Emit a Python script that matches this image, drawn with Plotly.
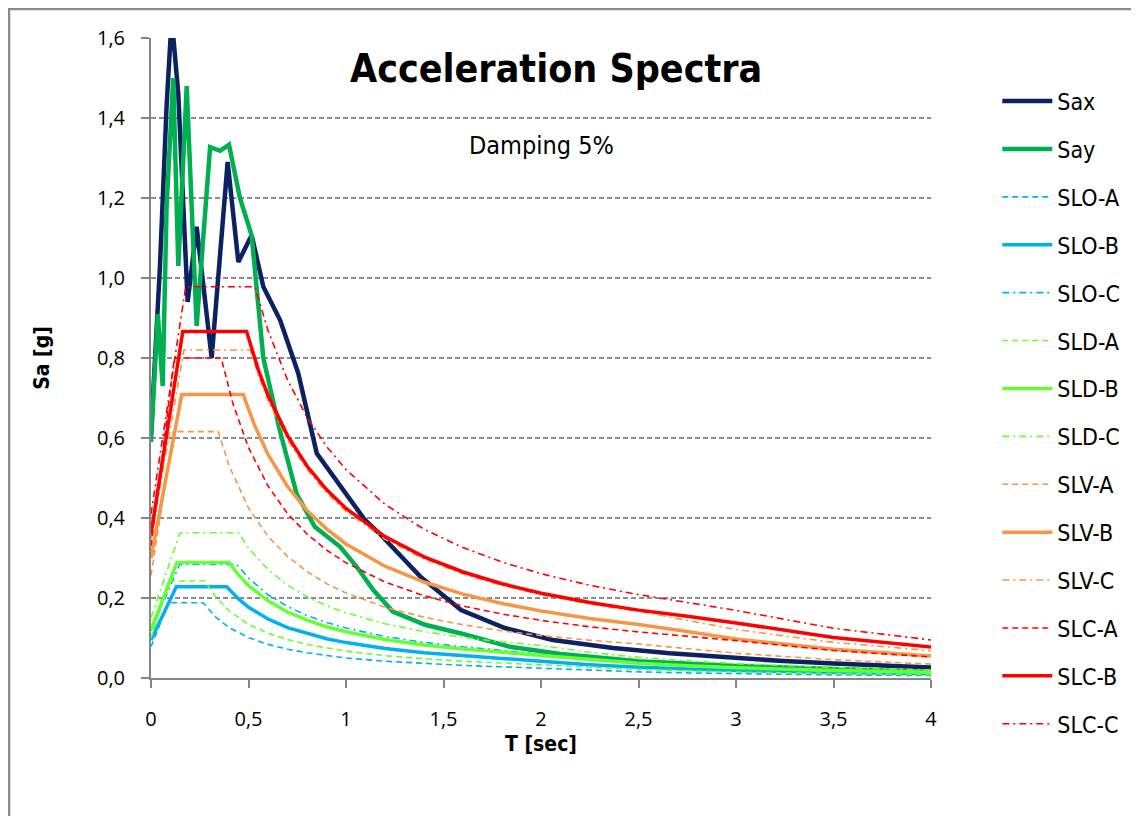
import plotly.graph_objects as go

# ---------------- data ----------------
T_TAIL = [0.6, 0.7, 0.8, 0.9, 1.0, 1.2, 1.4, 1.6, 1.8, 2.0, 2.25, 2.5, 2.75, 3.0, 3.5, 4.0]

sax_t = [0, 0.046, 0.08, 0.106, 0.14, 0.188, 0.234, 0.311, 0.393, 0.448, 0.516, 0.576, 0.662,
         0.755, 0.85, 1.0, 1.097, 1.174, 1.38, 1.59, 1.815, 2.06, 2.37, 2.66, 2.97, 3.22, 3.5, 4.0]
sax_v = [0.61, 1.03, 1.43, 1.65, 1.46, 0.94, 1.128, 0.80, 1.29, 1.04, 1.107, 0.978, 0.895,
         0.762, 0.562, 0.46, 0.395, 0.36, 0.254, 0.17, 0.125, 0.095, 0.075, 0.062, 0.05, 0.043, 0.036, 0.026]

say_t = [0, 0.035, 0.06, 0.08, 0.114, 0.14, 0.183, 0.234, 0.303, 0.354, 0.40, 0.456, 0.516, 0.576,
         0.66, 0.747, 0.84, 0.97, 1.055, 1.14, 1.24, 1.405, 1.585, 1.84, 2.1, 2.5, 3.0, 3.5, 4.0]
say_v = [0.59, 0.91, 0.73, 1.18, 1.50, 1.03, 1.48, 0.88, 1.327, 1.318, 1.333, 1.20, 1.107, 0.80,
         0.62, 0.46, 0.378, 0.328, 0.278, 0.22, 0.166, 0.133, 0.112, 0.078, 0.06, 0.042, 0.03, 0.022, 0.015]

slo_a_t = [0, 0.09, 0.268, 0.33, 0.4, 0.5] + T_TAIL
slo_a_v = [0.078, 0.188, 0.188, 0.153, 0.126, 0.101, 0.084, 0.072, 0.063, 0.056, 0.050, 0.042, 0.036,
           0.0315, 0.028, 0.0239, 0.0189, 0.0153, 0.0127, 0.0106, 0.0078, 0.0060]
slo_b_t = [0, 0.13, 0.388, 0.45, 0.5] + T_TAIL
slo_b_v = [0.095, 0.228, 0.228, 0.197, 0.177, 0.1475, 0.126, 0.111, 0.098, 0.0885, 0.074, 0.063,
           0.055, 0.049, 0.042, 0.0332, 0.0269, 0.0222, 0.0187, 0.0137, 0.0105]
slo_c_t = [0, 0.147, 0.44, 0.5] + T_TAIL
slo_c_v = [0.118, 0.284, 0.284, 0.25, 0.208, 0.179, 0.156, 0.139, 0.125, 0.104, 0.089, 0.078, 0.069,
           0.059, 0.0469, 0.038, 0.0314, 0.0264, 0.0194, 0.0148]

sld_a_t = [0, 0.092, 0.277, 0.33, 0.4, 0.5] + T_TAIL
sld_a_v = [0.100, 0.2425, 0.2425, 0.204, 0.168, 0.134, 0.112, 0.096, 0.084, 0.0747, 0.0672, 0.056,
           0.048, 0.042, 0.0373, 0.0336, 0.0265, 0.0215, 0.0178, 0.0149, 0.011, 0.0084]
sld_b_t = [0, 0.133, 0.40, 0.45, 0.5] + T_TAIL
sld_b_v = [0.12, 0.289, 0.289, 0.257, 0.231, 0.193, 0.165, 0.1445, 0.128, 0.1156, 0.0963, 0.0826,
           0.0723, 0.0642, 0.0578, 0.0457, 0.037, 0.0306, 0.0257, 0.0189, 0.0145]
sld_c_t = [0, 0.149, 0.448, 0.5] + T_TAIL
sld_c_v = [0.151, 0.363, 0.363, 0.325, 0.271, 0.232, 0.203, 0.181, 0.163, 0.1355, 0.116, 0.1016,
           0.0903, 0.0813, 0.0642, 0.052, 0.043, 0.0361, 0.0265, 0.0203]

slv_a_t = [0, 0.115, 0.345, 0.4, 0.5] + T_TAIL
slv_a_v = [0.256, 0.616, 0.616, 0.531, 0.425, 0.354, 0.304, 0.266, 0.236, 0.2125, 0.177, 0.152,
           0.133, 0.118, 0.106, 0.0944, 0.085, 0.0736, 0.0619, 0.0455, 0.0348]
slv_b_t = [0, 0.158, 0.473, 0.53] + T_TAIL
slv_b_v = [0.30, 0.709, 0.709, 0.633, 0.559, 0.479, 0.419, 0.373, 0.335, 0.2795, 0.240, 0.2096,
           0.1863, 0.1677, 0.149, 0.134, 0.1162, 0.0976, 0.0717, 0.0549]
slv_c_t = [0, 0.169, 0.508, 0.55] + T_TAIL
slv_c_v = [0.347, 0.82, 0.82, 0.757, 0.694, 0.595, 0.521, 0.463, 0.4166, 0.347, 0.2976, 0.260,
           0.2314, 0.2083, 0.185, 0.1666, 0.1443, 0.1213, 0.0891, 0.0682]

slc_a_t = [0, 0.12, 0.36, 0.42, 0.5] + T_TAIL
slc_a_v = [0.33, 0.80, 0.80, 0.686, 0.576, 0.48, 0.411, 0.36, 0.32, 0.288, 0.24, 0.2057, 0.18,
           0.16, 0.144, 0.128, 0.1152, 0.1047, 0.0934, 0.0686, 0.0526]
slc_b_t = [0, 0.163, 0.49, 0.55] + T_TAIL
slc_b_v = [0.36, 0.866, 0.866, 0.771, 0.707, 0.606, 0.530, 0.471, 0.424, 0.3536, 0.303, 0.265,
           0.2357, 0.212, 0.1886, 0.1697, 0.1543, 0.1377, 0.1011, 0.0774]
slc_c_t = [0, 0.178, 0.533] + T_TAIL
slc_c_v = [0.41, 0.978, 0.978, 0.869, 0.745, 0.652, 0.579, 0.521, 0.434, 0.372, 0.326, 0.290,
           0.2607, 0.2317, 0.2085, 0.1896, 0.1691, 0.1243, 0.0951]

x_ticks = [0, 0.5, 1, 1.5, 2, 2.5, 3, 3.5, 4]
y_ticks = [0, 0.2, 0.4, 0.6, 0.8, 1.0, 1.2, 1.4, 1.6]

# ---------------- styling ----------------
NARROW = "DejaVu Sans Condensed, Liberation Sans Narrow, sans-serif"
TICKFONT = "Open Sans, DejaVu Sans, sans-serif"
C_SLO, C_SLD, C_SLV, C_SLC = "#00b0f0", "#66ff33", "#f79646", "#ff0000"
DASH = "6px,4px"
DASHDOT = "7px,4px,2px,4px"

series = [
    ("Sax", sax_t, sax_v, "#0c2161", 4.5, "solid"),
    ("Say", say_t, say_v, "#00b050", 4.5, "solid"),
    ("SLO-A", slo_a_t, slo_a_v, C_SLO, 1.6, DASH),
    ("SLO-B", slo_b_t, slo_b_v, C_SLO, 3.5, "solid"),
    ("SLO-C", slo_c_t, slo_c_v, C_SLO, 1.6, DASHDOT),
    ("SLD-A", sld_a_t, sld_a_v, C_SLD, 1.6, DASH),
    ("SLD-B", sld_b_t, sld_b_v, C_SLD, 3.5, "solid"),
    ("SLD-C", sld_c_t, sld_c_v, C_SLD, 1.6, DASHDOT),
    ("SLV-A", slv_a_t, slv_a_v, C_SLV, 1.6, DASH),
    ("SLV-B", slv_b_t, slv_b_v, C_SLV, 3.5, "solid"),
    ("SLV-C", slv_c_t, slv_c_v, C_SLV, 1.6, DASHDOT),
    ("SLC-A", slc_a_t, slc_a_v, C_SLC, 1.6, DASH),
    ("SLC-B", slc_b_t, slc_b_v, C_SLC, 3.5, "solid"),
    ("SLC-C", slc_c_t, slc_c_v, C_SLC, 1.6, DASHDOT),
]

fig = go.Figure()
for name, t, v, color, w, dash in series:
    fig.add_trace(go.Scatter(x=t, y=v, name=name, mode="lines", legendgroup=name,
                             line=dict(color=color, width=w, dash=dash)))

AX = "#868686"
# page has an 8px body margin: figure is 8px smaller, plot area stays at page x 151..931, y 38..678
fig.update_layout(
    width=1131, height=808, autosize=False,
    paper_bgcolor="white", plot_bgcolor="white",
    separators=",.",
    margin=dict(l=143, r=208, t=30, b=138, pad=0),
    showlegend=True,
    legend=dict(x=1.085, xanchor="left", y=0.935, yanchor="top",
                font=dict(family=NARROW, size=23, color="black"),
                tracegroupgap=15, itemwidth=50, bgcolor="rgba(0,0,0,0)", maxheight=800),
    xaxis=dict(range=[0, 4], tickvals=x_ticks, showgrid=False, zeroline=False,
               showline=True, linecolor=AX, linewidth=2, ticks="outside", ticklen=8,
               tickwidth=2, tickcolor=AX, ticklabelstandoff=14,
               tickfont=dict(family=TICKFONT, size=20, color="black"),
               title=dict(text="<b>T [sec]</b>", standoff=0,
                          font=dict(family=NARROW, size=21, color="black"))),
    yaxis=dict(range=[0, 1.6], tickvals=y_ticks, tickformat=".1f", showgrid=True,
               gridcolor="#8c8c8c", gridwidth=1.5, griddash="5px,3px", zeroline=False,
               showline=True, linecolor=AX, linewidth=2, ticks="outside", ticklen=8,
               tickwidth=2, tickcolor=AX, ticklabelstandoff=12,
               tickfont=dict(family=TICKFONT, size=20, color="black"),
               title=dict(text="<b>Sa [g]</b>", standoff=42,
                          font=dict(family=NARROW, size=21, color="black"))),
    annotations=[
        dict(text="<b>Acceleration Spectra</b>", xref="paper", yref="paper",
             x=(556 - 151) / 780, y=(678 - 68) / 640, xanchor="center", yanchor="middle",
             showarrow=False, font=dict(family=NARROW, size=39, color="black")),
        dict(text="Damping 5%", xref="paper", yref="paper",
             x=(541 - 151) / 780, y=(678 - 146) / 640, xanchor="center", yanchor="middle",
             showarrow=False, font=dict(family=NARROW, size=25, color="black")),
    ],
    shapes=[
        dict(type="line", xref="paper", yref="paper", x0=(9 - 151) / 780, x1=(9 - 151) / 780,
             y0=(678 - 830) / 640, y1=(678 - 9) / 640, line=dict(color="#8a8a8a", width=2.5)),
        dict(type="line", xref="paper", yref="paper", x0=(8 - 151) / 780, x1=(1150 - 151) / 780,
             y0=(678 - 9) / 640, y1=(678 - 9) / 640, line=dict(color="#8a8a8a", width=2.5)),
    ],
)

fig.write_html("out.html")
